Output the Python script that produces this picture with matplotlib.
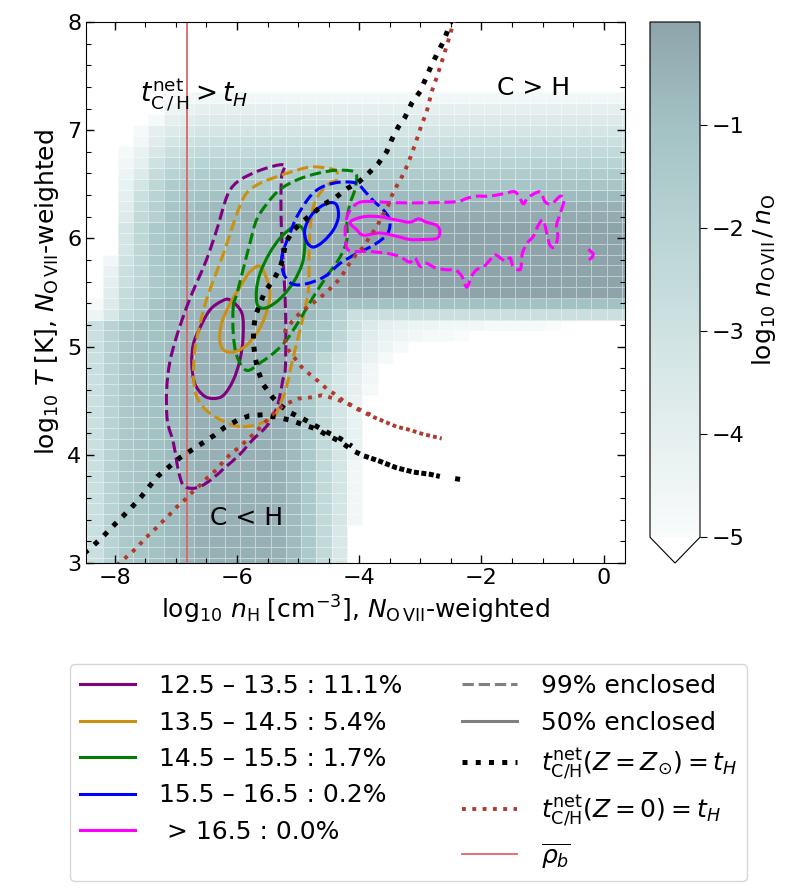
import numpy as np
import matplotlib
matplotlib.use("Agg")
import matplotlib.pyplot as plt
from matplotlib.colors import LinearSegmentedColormap
from matplotlib.lines import Line2D
from matplotlib.path import Path
from matplotlib.patches import PathPatch
from matplotlib.ticker import MultipleLocator

# ---------------- background: log10 n_OVII / n_O per (n_H, T) cell ----------------
# cells are 0.25 dex in n_H and 0.1 dex in T, one letter per cell:
# 'a' = 0.0 ... 'z' = -5.0 in steps of 0.2, '.' = below -5 (white)
nH_edges = np.linspace(-8.45, 0.55, 37)
T_edges = np.linspace(2.95, 7.35, 45)
level_letters = "abcdefghijklmnopqrstuvwxyz"
level_values = [0.0, -0.2, -0.4, -0.6, -0.8, -1.0, -1.2, -1.4, -1.6, -1.8,
                -2.0, -2.2, -2.4, -2.6, -2.8, -3.0, -3.2, -3.4, -3.6, -3.8,
                -4.0, -4.2, -4.4, -4.6, -4.8, -5.0]
# rows from T = 7.3 (top) down to T = 3.0
ion_rows = [
    ".....yxxx xxxxxxxxx xxxxxxxxx xxxxxxxxx",  # 7.3
    ".....wvuu uuuuuuuuu uuuuuuuuu uuuuuuuuu",  # 7.2
    "....yutss sssssssss sssssssss sssssssss",  # 7.1
    "...yusrqq qqqqqqqqq qqqqqqqqq qqqqqqqqq",  # 7.0
    "...xtqpoo ooooooooo ooooooooo ooooooooo",  # 6.9
    "..yvronmm mmmmmmmmm mmmmmmmmm mmmmmmmmm",  # 6.8
    "..xupmlkk kkkkkkkkk kkkkkkkkk kkkkkkkkk",  # 6.7
    "..wsnkjii iiiiiiiii iiiiiiiii iiiiiiiii",  # 6.6
    "..vqlihhh hhhhggggg ggggggggg ggggggggg",  # 6.5
    "..uokhgff fffeeeeee eeeeeeeee eeeeeeeee",  # 6.4
    "..tnjgfee eddddddcc ccccccccc ccccccccc",  # 6.3
    "..smjfeed dccccccbb bbbbbbbbb bbbbbbbbb",  # 6.2
    "..qlhfeee ddddccbba aaaaaaaaa aaaaaaaaa",  # 6.1
    "..qlhfeee ddddccbba aaaaaaaaa aaaaaaaaa",  # 6.0
    "..qlhfeee ddddccbba aaaaaaaaa aaaaaaaaa",  # 5.9
    ".xplhfeee ddddccbba aaaaaaaaa aaaaaaaaa",  # 5.8
    ".volhfeee ddddccbba aaaaaaaaa aaaaaaaaa",  # 5.7
    ".uolhfeee ddddccbba aaaaaaaaa aaaaaaaaa",  # 5.6
    ".tnkhfeed dcccccbba aaaaaaaaa aaaaaaaaa",  # 5.5
    "ysnkgeddc cccccdeff fffffffff fffffffff",  # 5.4
    "wrmkgeddc cccccegjo ooooooooo ooooooooo",  # 5.3
    "okhgfedcc ccccdfhkp suvwwxxxy yyyz.....",  # 5.2
    "okhgfedcc ccccdfhlq tvwxyyz.. .........",  # 5.1
    "okhgfedcc ccccegimr uwy...... .........",  # 5.0
    "okhgfedcc ccccehlps vy....... .........",  # 4.9
    "okhgfedcc ccccehlqt x........ .........",  # 4.8
    "okhgfedcc ccccehmqu x........ .........",  # 4.7
    "okhgfedcc ccccehmqu y........ .........",  # 4.6
    "okhgfedcc ccccehmqv ......... .........",  # 4.5
    "okhgfedcc ccccehmqv ......... .........",  # 4.4
    "okhgfedcc ccccehmqv ......... .........",  # 4.3
    "okhgfedcc ccccehmqv ......... .........",  # 4.2
    "okhgfedcc ccccehmqv ......... .........",  # 4.1
    "okhgfedcc ccccehmqv ......... .........",  # 4.0
    "okhgfedcc ccccehmqx ......... .........",  # 3.9
    "okhgfedcc ccccehmqx ......... .........",  # 3.8
    "okhgfedcc ccccehmqx ......... .........",  # 3.7
    "okhgfedcc ccccehmqx ......... .........",  # 3.6
    "okhgfedcc ccccehmqx ......... .........",  # 3.5
    "okhgfedcc ccccehmqx ......... .........",  # 3.4
    "okhgfedcc ccccehmr. ......... .........",  # 3.3
    "okhgfedcc ccccehmr. ......... .........",  # 3.2
    "okhgfedcc ccccehmr. ......... .........",  # 3.1
    "okhgfedcc ccccehmr. ......... .........",  # 3.0
]

# ---------------- enclosed-fraction contours (log nH, log T) ----------------
purple_99_x = [-5.24, -5.62, -5.95, -6.11, -6.20, -6.33, -6.50, -6.66, -6.82, -6.99, -7.10, -7.15,
               -7.14, -7.04, -6.96, -6.88, -6.74, -6.59, -6.40, -6.18, -5.96, -5.74, -5.52, -5.39,
               -5.31, -5.25, -5.21, -5.20, -5.21, -5.24, -5.27, -5.28, -5.27, -5.24]
purple_99_T = [6.68, 6.63, 6.54, 6.45, 6.33, 6.08, 5.80, 5.59, 5.37, 5.09, 4.85, 4.60,
               4.32, 4.11, 3.86, 3.72, 3.69, 3.71, 3.78, 3.89, 4.00, 4.14, 4.26, 4.38,
               4.51, 4.69, 4.78, 5.09, 5.43, 5.74, 6.05, 6.35, 6.57, 6.68]
purple_50_x = [-6.11, -5.92, -5.90, -5.95, -6.06, -6.22, -6.39, -6.55, -6.69, -6.74, -6.71, -6.60, -6.44, -6.25, -6.11]
purple_50_T = [5.43, 5.31, 5.09, 4.88, 4.69, 4.55, 4.52, 4.55, 4.66, 4.85, 5.03, 5.18, 5.34, 5.42, 5.43]

orange_99_x = [-5.95, -6.22, -6.50, -6.66, -6.71, -6.69, -6.60, -6.50, -6.36, -6.22, -6.09, -5.98,
               -5.84, -5.62, -5.35, -5.08, -4.80, -4.53, -4.37, -4.37, -4.48, -4.64, -4.75, -4.80,
               -4.82, -4.82, -4.83, -4.89, -4.97, -5.05, -5.13, -5.20, -5.28, -5.40, -5.68, -5.95]
orange_99_T = [4.26, 4.31, 4.41, 4.54, 4.72, 4.97, 5.22, 5.43, 5.65, 5.86, 6.08, 6.26,
               6.42, 6.51, 6.57, 6.62, 6.66, 6.65, 6.62, 6.54, 6.51, 6.42, 6.29, 6.11,
               5.89, 5.71, 5.52, 5.34, 5.15, 4.97, 4.78, 4.60, 4.49, 4.35, 4.28, 4.26]
orange_50_x = [-5.62, -5.49, -5.46, -5.54, -5.68, -5.87, -6.06, -6.22, -6.28, -6.25, -6.11, -5.95, -5.79, -5.62]
orange_50_T = [5.74, 5.59, 5.46, 5.28, 5.12, 5.00, 4.95, 4.97, 5.06, 5.22, 5.40, 5.55, 5.69, 5.74]

green_99_x = [-6.06, -6.06, -6.00, -5.84, -5.62, -5.40, -5.19, -4.97, -4.75, -4.53, -4.31, -4.20, -4.20, -4.15,
              -4.07, -4.04, -4.10, -4.37, -4.69, -5.02, -5.30, -5.51, -5.68, -5.79, -5.90, -6.00, -6.06]
green_99_T = [5.37, 5.12, 4.91, 4.78, 4.85, 4.94, 5.06, 5.25, 5.46, 5.65, 5.83, 5.99, 6.17, 6.32,
              6.45, 6.57, 6.62, 6.63, 6.60, 6.54, 6.45, 6.32, 6.17, 5.95, 5.71, 5.49, 5.37]
green_50_x = [-5.02, -4.91, -4.89, -4.93, -5.07, -5.28, -5.51, -5.66, -5.68, -5.62, -5.46, -5.25, -5.02]
green_50_T = [6.12, 6.07, 5.94, 5.77, 5.60, 5.45, 5.36, 5.38, 5.52, 5.68, 5.87, 6.03, 6.12]

blue_99_x = [-4.04, -4.31, -4.59, -4.80, -5.02, -5.13, -5.24, -5.27, -5.24, -5.13, -4.97, -4.75,
             -4.53, -4.31, -4.04, -3.82, -3.63, -3.52, -3.50, -3.60, -3.77, -3.93, -4.04]
blue_99_T = [6.51, 6.52, 6.48, 6.39, 6.20, 6.05, 5.89, 5.80, 5.68, 5.59, 5.57, 5.60,
             5.66, 5.77, 5.86, 5.92, 5.99, 6.06, 6.17, 6.26, 6.35, 6.45, 6.51]
blue_50_x = [-4.37, -4.34, -4.42, -4.59, -4.75, -4.86, -4.89, -4.80, -4.64, -4.48, -4.37]
blue_50_T = [6.31, 6.20, 6.08, 5.97, 5.92, 5.97, 6.08, 6.20, 6.29, 6.33, 6.31]

magenta_99_x = [-3.93, -3.39, -2.84, -2.40, -2.24, -2.08, -1.91, -1.75, -1.59, -1.45, -1.37, -1.31,
                -1.23, -1.04, -0.96, -0.85, -0.71, -0.65, -0.71, -0.77, -0.75, -0.80, -0.88, -0.93,
                -0.99, -1.07, -1.15, -1.26, -1.33, -1.34, -1.37, -1.48, -1.53, -1.61, -1.78, -1.86,
                -1.96, -2.08, -2.16, -2.24, -2.32, -2.43, -2.57, -2.76, -2.90, -3.00, -3.09, -3.17,
                -3.30, -3.44, -3.66, -3.88, -4.10, -4.20, -4.23, -4.20, -4.10, -3.93]
magenta_99_T = [6.34, 6.33, 6.33, 6.34, 6.37, 6.39, 6.39, 6.40, 6.42, 6.43, 6.37, 6.32,
                6.38, 6.43, 6.34, 6.32, 6.39, 6.35, 6.23, 6.12, 6.02, 5.92, 5.94, 6.05,
                6.17, 6.12, 6.02, 5.95, 5.86, 5.79, 5.71, 5.74, 5.82, 5.79, 5.85, 5.80,
                5.74, 5.71, 5.65, 5.55, 5.65, 5.71, 5.71, 5.73, 5.77, 5.74, 5.82, 5.78,
                5.82, 5.85, 5.87, 5.88, 5.88, 5.91, 6.05, 6.20, 6.29, 6.34]
magenta_50_x = [-4.15, -3.93, -3.66, -3.39, -3.17, -3.03, -2.90, -2.73, -2.68, -2.73, -2.95, -3.17,
                -3.39, -3.66, -3.93, -4.04, -4.15]
magenta_50_T = [6.15, 6.20, 6.20, 6.17, 6.15, 6.18, 6.15, 6.12, 6.06, 6.00, 5.99, 5.99,
                6.02, 6.05, 6.03, 6.08, 6.15]
magenta_bit_x = [-0.23, -0.17, -0.18, -0.22]
magenta_bit_T = [5.89, 5.86, 5.83, 5.81]

# ---------------- t_cool = t_H curves ----------------
zsun_lo_x = [-8.50, -8.39, -8.20, -8.03, -7.87, -7.73, -7.57, -7.43, -7.30, -7.13, -6.94, -6.75, -6.56,
             -6.37, -6.21, -5.99, -5.80, -5.58, -5.36, -5.13, -4.92, -4.71, -4.52, -4.30, -4.11, -3.92]
zsun_lo_T = [3.09, 3.14, 3.24, 3.34, 3.43, 3.51, 3.61, 3.71, 3.80, 3.88, 3.97, 4.04, 4.11,
             4.18, 4.25, 4.32, 4.36, 4.37, 4.35, 4.32, 4.28, 4.24, 4.18, 4.12, 4.04, 3.99]
zsun_tail_x = [-3.92, -3.66, -3.39, -3.11, -2.84, -2.68]
zsun_tail_T = [3.99, 3.94, 3.88, 3.84, 3.82, 3.80]
zsun_end_x = [-2.43, -2.32]
zsun_end_T = [3.78, 3.77]
zsun_hi_x = [-2.48, -2.54, -2.62, -2.73, -2.84, -3.00, -3.14, -3.25, -3.36, -3.47, -3.55, -3.69, -3.85,
             -4.01, -4.20, -4.38, -4.59, -4.76, -4.94, -5.10, -5.21, -5.24, -5.30, -5.40, -5.54, -5.62,
             -5.70, -5.73, -5.73, -5.70, -5.65, -5.57, -5.43, -5.30, -5.13, -4.91, -4.72, -4.53, -4.31, -4.12]
zsun_hi_T = [8.03, 7.94, 7.82, 7.70, 7.57, 7.36, 7.25, 7.12, 7.03, 6.91, 6.80, 6.69, 6.60,
             6.52, 6.46, 6.38, 6.31, 6.23, 6.15, 6.06, 5.95, 5.83, 5.72, 5.62, 5.51, 5.40,
             5.28, 5.15, 5.03, 4.89, 4.77, 4.65, 4.54, 4.46, 4.39, 4.33, 4.27, 4.21, 4.15, 4.08]

z0_lo_x = [-7.97, -7.90, -7.76, -7.62, -7.52, -7.38, -7.26, -7.13, -7.00, -6.86, -6.74, -6.62, -6.48,
           -6.34, -6.22, -6.10, -5.96, -5.83, -5.69, -5.58, -5.44, -5.33, -5.20, -4.99, -4.80, -4.61,
           -4.40, -4.18, -3.99, -3.77]
z0_lo_T = [2.98, 3.01, 3.08, 3.15, 3.22, 3.29, 3.36, 3.43, 3.51, 3.58, 3.65, 3.71, 3.79,
           3.86, 3.94, 4.01, 4.07, 4.14, 4.21, 4.28, 4.36, 4.42, 4.47, 4.52, 4.53, 4.55,
           4.52, 4.47, 4.41, 4.35]
z0_tail_x = [-3.77, -3.60, -3.39, -3.17, -2.95, -2.79, -2.65]
z0_tail_T = [4.35, 4.31, 4.26, 4.23, 4.19, 4.17, 4.15]
z0_hi_x = [-2.44, -2.54, -2.65, -2.73, -2.81, -2.90, -2.98, -3.03, -3.11, -3.20, -3.30, -3.39, -3.47,
           -3.52, -3.61, -3.71, -3.82, -3.93, -4.04, -4.18, -4.31, -4.45, -4.56, -4.69, -4.83, -4.97,
           -5.10, -5.21, -5.21, -5.16, -5.05, -4.94, -4.80, -4.67, -4.53, -4.40, -4.26, -4.10, -3.93, -3.77]
z0_hi_T = [8.03, 7.83, 7.63, 7.49, 7.36, 7.16, 7.05, 6.96, 6.83, 6.69, 6.57, 6.48, 6.39,
           6.31, 6.22, 6.11, 6.02, 5.92, 5.86, 5.75, 5.63, 5.55, 5.49, 5.43, 5.37, 5.31,
           5.23, 5.15, 5.05, 4.97, 4.89, 4.81, 4.74, 4.68, 4.61, 4.56, 4.50, 4.45, 4.40, 4.36]

rho_b_nH = -6.82

# ---------------- legend text ----------------
bin_labels = ["12.5 – 13.5 : 11.1%", "13.5 – 14.5 : 5.4%", "14.5 – 15.5 : 1.7%",
              "15.5 – 16.5 : 0.2%", " > 16.5 : 0.0%"]
bin_colors = ["purple", "#cc9010", "green", "blue", "magenta"]

FS = 18


def closed_smooth_path(xs, ys):
    # closed curve through the read points (Catmull-Rom drawn as cubic Beziers)
    pts = np.column_stack([xs, ys]).astype(float)
    if np.allclose(pts[0], pts[-1]):
        pts = pts[:-1]
    n = len(pts)
    verts, codes = [pts[0]], [Path.MOVETO]
    for i in range(n):
        p0, p1, p2, p3 = pts[(i - 1) % n], pts[i], pts[(i + 1) % n], pts[(i + 2) % n]
        verts += [p1 + (p2 - p0) / 6.0, p2 - (p3 - p1) / 6.0, p2]
        codes += [Path.CURVE4] * 3
    return Path(verts, codes)


# ---------------- figure ----------------
fig = plt.figure(figsize=(8, 8.93), dpi=100)
ax = fig.add_axes([86 / 800, 1 - 563 / 893, 539 / 800, 541 / 893])
cax = fig.add_axes([650 / 800, 1 - 563 / 893, 50 / 800, 541 / 893])

lookup = dict(zip(level_letters, level_values))
grid = np.array([[lookup.get(c, np.nan) for c in row.replace(" ", "")] for row in ion_rows[::-1]])
grid = np.ma.masked_invalid(grid)

cmap = LinearSegmentedColormap.from_list(
    "ovii", [(0.0, "#f9fbfb"), (0.2, "#e5efef"), (0.4, "#cfe2e2"),
             (0.6, "#b8d3d3"), (0.8, "#a3c2c4"), (1.0, "#8ea4ab")])
cmap.set_under("white")

mesh = ax.pcolormesh(nH_edges, T_edges, grid, cmap=cmap, vmin=-5, vmax=0,
                     edgecolors=(1, 1, 1, 0.45), linewidth=0.5, zorder=0)

ax.axvline(rho_b_nH, color="#e06666", lw=1.3, zorder=1)

contours = [
    (purple_99_x, purple_99_T, purple_50_x, purple_50_T, bin_colors[0]),
    (orange_99_x, orange_99_T, orange_50_x, orange_50_T, bin_colors[1]),
    (green_99_x, green_99_T, green_50_x, green_50_T, bin_colors[2]),
    (blue_99_x, blue_99_T, blue_50_x, blue_50_T, bin_colors[3]),
    (magenta_99_x, magenta_99_T, magenta_50_x, magenta_50_T, bin_colors[4]),
]
for x99, t99, x50, t50, col in contours:
    ax.add_patch(PathPatch(closed_smooth_path(x99, t99), fill=False, edgecolor=col,
                           lw=2.2, ls="--", zorder=2))
    ax.add_patch(PathPatch(closed_smooth_path(x50, t50), fill=False, edgecolor=col,
                           lw=2.2, ls="-", zorder=2))
ax.plot(magenta_bit_x, magenta_bit_T, color="magenta", ls="-", lw=2.2, zorder=2)

black_kw = dict(color="black", lw=3.6, zorder=3)
ax.plot(zsun_lo_x, zsun_lo_T, ls=":", **black_kw)
ax.plot(zsun_hi_x, zsun_hi_T, ls=":", **black_kw)
ax.plot(zsun_tail_x, zsun_tail_T, ls=(0, (1, 0.5)), **black_kw)
ax.plot(zsun_end_x, zsun_end_T, ls=(0, (1, 0.5)), **black_kw)

red_kw = dict(color="#b03a2e", lw=2.8, zorder=3)
ax.plot(z0_lo_x, z0_lo_T, ls=":", **red_kw)
ax.plot(z0_hi_x, z0_hi_T, ls=":", **red_kw)
ax.plot(z0_tail_x, z0_tail_T, ls=(0, (1, 0.8)), **red_kw)

ax.text(-6.70, 7.33, r"$t_{\mathrm{C\,/\,H}}^{\mathrm{net}} > t_H$", fontsize=19, ha="center", va="center")
ax.text(-1.14, 7.39, "C > H", fontsize=FS, ha="center", va="center")
ax.text(-5.84, 3.42, "C < H", fontsize=FS, ha="center", va="center")

ax.set_xlim(-8.47, 0.35)
ax.set_ylim(3, 8)
ax.xaxis.set_major_locator(MultipleLocator(2))
ax.xaxis.set_minor_locator(MultipleLocator(0.5))
ax.yaxis.set_major_locator(MultipleLocator(1))
ax.yaxis.set_minor_locator(MultipleLocator(0.2))
ax.tick_params(which="both", direction="in", top=True, right=True, labelsize=16)
ax.tick_params(which="major", length=6, width=1.0)
ax.tick_params(which="minor", length=3.5, width=0.8)
ax.set_xlabel(r"$\log_{10}\, n_{\mathrm{H}}\; [\mathrm{cm}^{-3}]$, $N_{\mathrm{O\,VII}}$-weighted", fontsize=FS)
ax.set_ylabel(r"$\log_{10}\, T\; [\mathrm{K}]$, $N_{\mathrm{O\,VII}}$-weighted", fontsize=FS)

cb = fig.colorbar(mesh, cax=cax, extend="min")
cb.set_ticks([-5, -4, -3, -2, -1])
cb.ax.tick_params(labelsize=16, length=5)
cb.set_label(r"$\log_{10}\, n_{\mathrm{O\,VII}} \,/\, n_{\mathrm{O}}$", fontsize=FS)

handles = [Line2D([], [], color=c, lw=2.2) for c in bin_colors]
handles += [Line2D([], [], color="gray", ls="--", lw=2.2),
            Line2D([], [], color="gray", ls="-", lw=2.2),
            Line2D([], [], color="black", ls=":", lw=3.6),
            Line2D([], [], color="#b03a2e", ls=":", lw=2.8),
            Line2D([], [], color="#e06666", lw=1.3)]
labels = bin_labels + ["99% enclosed", "50% enclosed",
                       r"$t_{\mathrm{C/H}}^{\mathrm{net}}(Z = Z_{\odot}) = t_H$",
                       r"$t_{\mathrm{C/H}}^{\mathrm{net}}(Z = 0) = t_H$",
                       r"$\overline{\rho_b}$"]
fig.legend(handles, labels, ncol=2, loc="upper left", bbox_to_anchor=(70 / 800, 1 - 664 / 893),
           fontsize=FS, handlelength=2.2, handletextpad=0.95, columnspacing=2.4, borderaxespad=0)

fig.savefig("out.png", dpi=100)
